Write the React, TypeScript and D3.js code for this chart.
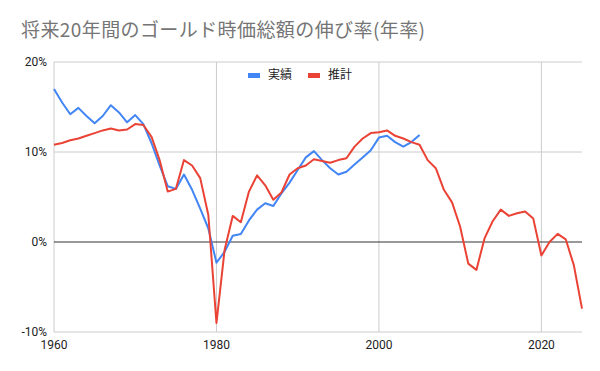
import React from "react";
import * as d3 from "d3";

const title = "将来20年間のゴールド時価総額の伸び率(年率)";
const seriesNames = ["実績", "推計"];
const colors = ["#4285f4", "#ea4335"];

const startYear = 1960;
// 実績 (%), 1960-2005
const actual = [
  17.0, 15.5, 14.2, 14.9, 14.0, 13.2, 14.0, 15.2, 14.4, 13.3,
  14.1, 13.1, 11.0, 8.5, 6.2, 5.9, 7.5, 5.8, 3.7, 1.5,
  -2.3, -1.1, 0.7, 0.9, 2.4, 3.6, 4.3, 4.0, 5.4, 6.6,
  8.0, 9.4, 10.1, 9.1, 8.2, 7.5, 7.8, 8.6, 9.4, 10.2,
  11.6, 11.8, 11.1, 10.6, 11.1, 11.9,
];
// 推計 (%), 1960-2025
const estimate = [
  10.8, 11.0, 11.3, 11.5, 11.8, 12.1, 12.4, 12.6, 12.4, 12.5,
  13.1, 13.0, 11.7, 9.1, 5.6, 5.9, 9.1, 8.5, 7.1, 3.0,
  -9.0, -0.9, 2.9, 2.2, 5.6, 7.4, 6.3, 4.7, 5.5, 7.5,
  8.2, 8.5, 9.2, 9.0, 8.8, 9.1, 9.3, 10.6, 11.5, 12.1,
  12.2, 12.4, 11.8, 11.5, 11.1, 10.8, 9.1, 8.2, 5.8, 4.4,
  1.7, -2.4, -3.1, 0.4, 2.3, 3.6, 2.9, 3.2, 3.4, 2.6,
  -1.5, 0.0, 0.9, 0.3, -2.6, -7.4,
];
const xTicks = [1960, 1980, 2000, 2020];
const yTicks = [-10, 0, 10, 20];

const W = 600;
const H = 371;
const margin = { top: 62, right: 18, bottom: 39, left: 54 };
const font = "'Noto Sans CJK JP', 'Noto Sans', Roboto, sans-serif";

export default function App() {
  const x = d3
    .scaleLinear()
    .domain([1960, 2025])
    .range([margin.left, W - margin.right]);
  const y = d3
    .scaleLinear()
    .domain([-10, 20])
    .range([H - margin.bottom, margin.top]);

  const line = d3
    .line<number>()
    .x((_, i) => x(startYear + i))
    .y(d => y(d));

  const series = [actual, estimate];

  return (
    <svg
      width={W}
      height={H}
      style={{ position: "absolute", left: 0, top: 0, background: "#fff" }}
      fontFamily={font}
    >
      <text
        x={21}
        y={37}
        fontSize={19}
        fill="#757575"
        textLength={404}
        lengthAdjust="spacing"
      >
        {title}
      </text>
      {/* grid */}
      {yTicks
        .filter(t => t !== 0)
        .map(t => (
          <line
            key={"gy" + t}
            x1={x(1960)}
            x2={x(2025)}
            y1={y(t)}
            y2={y(t)}
            stroke="#cccccc"
          />
        ))}
      {xTicks.map(t => (
        <line
          key={"gx" + t}
          x1={x(t)}
          x2={x(t)}
          y1={y(20)}
          y2={y(-10)}
          stroke="#cccccc"
        />
      ))}
      {/* labels */}
      {yTicks.map(t => (
        <text
          key={"ly" + t}
          x={margin.left - 7}
          y={y(t)}
          dy="0.35em"
          textAnchor="end"
          fontSize={12}
          fill="#222"
          fontFamily="Roboto, sans-serif"
        >
          {t + "%"}
        </text>
      ))}
      {xTicks.map(t => (
        <text
          key={"lx" + t}
          x={x(t)}
          y={H - margin.bottom + 17}
          textAnchor="middle"
          fontSize={12}
          fill="#222"
          fontFamily="Roboto, sans-serif"
        >
          {t}
        </text>
      ))}
      {/* zero line */}
      <line
        x1={x(1960)}
        x2={x(2025)}
        y1={y(0)}
        y2={y(0)}
        stroke="#333333"
      />
      {series.map((s, i) => (
        <path
          key={"s" + i}
          d={line(s) || ""}
          fill="none"
          stroke={colors[i]}
          strokeWidth={2}
          strokeLinejoin="round"
        />
      ))}
      {/* legend */}
      {seriesNames.map((n, i) => (
        <g key={"lg" + i} transform={`translate(${248 + i * 60}, 75)`}>
          <rect x={0} y={-2} width={12} height={5} fill={colors[i]} />
          <text x={20} y={0} dy="0.35em" fontSize={12} fill="#222">
            {n}
          </text>
        </g>
      ))}
    </svg>
  );
}
